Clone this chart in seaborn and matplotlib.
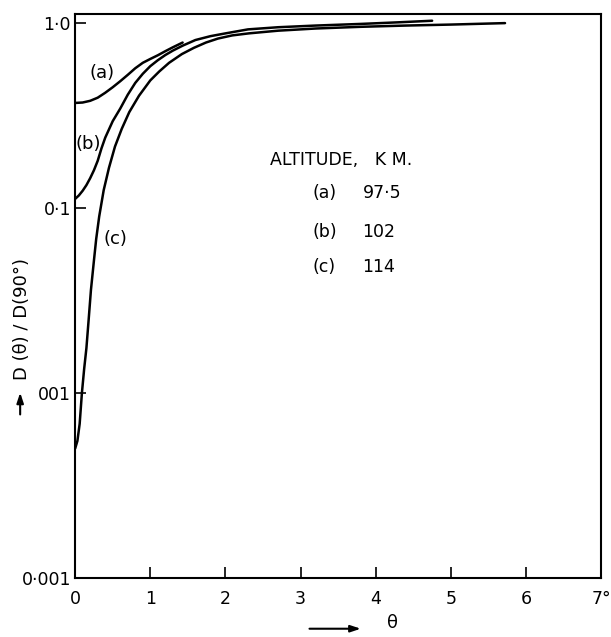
import numpy as np
import pandas as pd
import matplotlib
matplotlib.use("Agg")
import matplotlib.pyplot as plt
import seaborn as sns
from matplotlib.ticker import FixedLocator, FixedFormatter, NullLocator

# values (theta in degrees, ratio D(theta)/D(90))
theta_a = [0.0, 0.1, 0.2, 0.3, 0.4, 0.5, 0.6, 0.7, 0.8, 0.9, 1.0, 1.1, 1.2, 1.3, 1.43]
ratio_a = [0.37, 0.372, 0.38, 0.395, 0.42, 0.45, 0.485, 0.525, 0.57, 0.61, 0.64, 0.67, 0.705,
           0.74, 0.785]

theta_b = [0.0, 0.05, 0.1, 0.15, 0.2, 0.25, 0.3, 0.35, 0.4, 0.5, 0.6, 0.7, 0.8, 0.9, 1.0, 1.1,
           1.2, 1.3, 1.43, 1.6, 1.8, 2.0, 2.3, 2.7, 3.2, 3.8, 4.3, 4.75]
ratio_b = [0.112, 0.117, 0.124, 0.133, 0.145, 0.16, 0.18, 0.21, 0.24, 0.295, 0.345, 0.41, 0.475,
           0.532, 0.585, 0.63, 0.672, 0.71, 0.755, 0.81, 0.85, 0.88, 0.925, 0.95, 0.97, 0.99,
           1.01, 1.03]

theta_c = [0.0, 0.03, 0.06, 0.09, 0.12, 0.15, 0.18, 0.21, 0.25, 0.28, 0.32, 0.38, 0.45, 0.53,
           0.62, 0.72, 0.85, 1.0, 1.12, 1.25, 1.42, 1.58, 1.74, 1.9, 2.09, 2.31, 2.7, 3.2, 3.8,
           4.4, 5.0, 5.72]
ratio_c = [0.005, 0.0055, 0.0068, 0.010, 0.0135, 0.0175, 0.025, 0.036, 0.052, 0.068, 0.09, 0.125,
           0.165, 0.215, 0.268, 0.33, 0.405, 0.49, 0.548, 0.61, 0.68, 0.735, 0.785, 0.825, 0.858,
           0.88, 0.91, 0.935, 0.955, 0.97, 0.982, 1.0]

curve_names = ['(a)', '(b)', '(c)']
altitudes = ['97·5', '102', '114']

x_ticks = [0, 1, 2, 3, 4, 5, 6, 7]
x_ticklabels = ['0', '1', '2', '3', '4', '5', '6', '7°']
y_ticks = [0.001, 0.01, 0.1, 1.0]
y_ticklabels = ['0·001', '001', '0·1', '1·0']

sns.set_style('ticks')
plt.rcParams['font.family'] = ['DejaVu Sans']
plt.rcParams['text.color'] = 'black'
plt.rcParams['xtick.color'] = 'black'
plt.rcParams['ytick.color'] = 'black'
plt.rcParams['xtick.labelcolor'] = 'black'
plt.rcParams['ytick.labelcolor'] = 'black'

df = pd.concat([
    pd.DataFrame({'theta': theta_a, 'ratio': ratio_a, 'curve': '(a)'}),
    pd.DataFrame({'theta': theta_b, 'ratio': ratio_b, 'curve': '(b)'}),
    pd.DataFrame({'theta': theta_c, 'ratio': ratio_c, 'curve': '(c)'}),
], ignore_index=True)

fig = plt.figure(figsize=(6.11, 6.37), dpi=100)
ax = fig.add_axes([0.123, 0.093, 0.861, 0.885])

sns.lineplot(data=df, x='theta', y='ratio', hue='curve', units='curve', estimator=None,
             sort=False, palette=['black'] * 3, linewidth=1.8, legend=False, ax=ax)
for ln in ax.get_lines():
    ln.set_solid_joinstyle('round')

ax.set_yscale('log')
ax.set_xlim(0, 7)
ax.set_ylim(0.001, 1.12)

ax.xaxis.set_major_locator(FixedLocator(x_ticks))
ax.xaxis.set_major_formatter(FixedFormatter(x_ticklabels))
ax.yaxis.set_major_locator(FixedLocator(y_ticks))
ax.yaxis.set_major_formatter(FixedFormatter(y_ticklabels))
ax.yaxis.set_minor_locator(NullLocator())
ax.tick_params(axis='both', direction='in', length=8, width=1.2, labelsize=12.5)
ax.tick_params(axis='x', pad=9)
ax.tick_params(axis='y', pad=3)

for sp in ax.spines.values():
    sp.set_linewidth(1.5)
    sp.set_color('black')
    sp.set_visible(True)

ax.set_xlabel('')
ax.set_ylabel('')

# curve labels
ax.text(0.36, 0.54, '(a)', fontsize=13, ha='center', va='center')
ax.text(0.17, 0.222, '(b)', fontsize=13, ha='center', va='center')
ax.text(0.54, 0.068, '(c)', fontsize=13, ha='center', va='center')

# legend-like text block
ax.text(0.371, 0.741, 'ALTITUDE,   K M.', transform=ax.transAxes, fontsize=12.5, va='center')
rows_y = [0.683, 0.613, 0.551]
for name, alt, yy in zip(curve_names, altitudes, rows_y):
    ax.text(0.452, yy, name, transform=ax.transAxes, fontsize=12.5, va='center')
    ax.text(0.546, yy, alt, transform=ax.transAxes, fontsize=12.5, va='center')

# axis labels with arrows
fig.text(0.643, 0.008, 'θ', fontsize=13, ha='center', va='bottom')
ax.annotate('', xy=(0.595, 0.013), xytext=(0.502, 0.013), xycoords='figure fraction',
            arrowprops=dict(arrowstyle='-|>,head_length=0.6,head_width=0.2', color='black', lw=1.5))
fig.text(0.036, 0.50, 'D (θ) / D(90°)', fontsize=13, rotation=90, ha='center', va='center')
ax.annotate('', xy=(0.033, 0.388), xytext=(0.033, 0.345), xycoords='figure fraction',
            arrowprops=dict(arrowstyle='-|>,head_length=0.6,head_width=0.2', color='black', lw=1.5))

fig.savefig('out.png', dpi=100)
